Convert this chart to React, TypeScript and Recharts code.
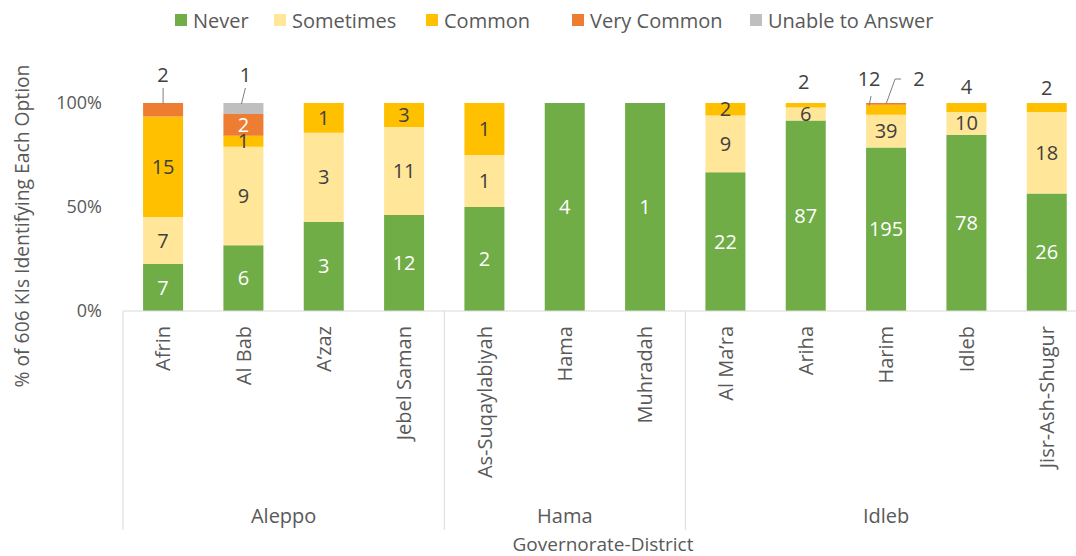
import { BarChart, Bar, XAxis, YAxis, Legend, LabelList } from 'recharts'

const DISTRICTS = [
  'Afrin',
  'Al Bab',
  'A’zaz',
  'Jebel Saman',
  'As-Suqaylabiyah',
  'Hama',
  'Muhradah',
  'Al Ma’ra',
  'Ariha',
  'Harim',
  'Idleb',
  'Jisr-Ash-Shugur',
]
const GOVERNORATES = [
  'Aleppo', 'Aleppo', 'Aleppo', 'Aleppo',
  'Hama', 'Hama', 'Hama',
  'Idleb', 'Idleb', 'Idleb', 'Idleb', 'Idleb',
]

// number of KIs giving each answer, per district
const NEVER = [7, 6, 3, 12, 2, 4, 1, 22, 87, 195, 78, 26]
const SOMETIMES = [7, 9, 3, 11, 1, 0, 0, 9, 6, 39, 10, 18]
const COMMON = [15, 1, 1, 3, 1, 0, 0, 2, 2, 12, 4, 2]
const VERY_COMMON = [2, 2, 0, 0, 0, 0, 0, 0, 0, 2, 0, 0]
const UNABLE = [0, 1, 0, 0, 0, 0, 0, 0, 0, 0, 0, 0]

const Y_TICKS = [0, 0.5, 1]

const SERIES = [
  { key: 'never', name: 'Never', counts: NEVER, color: '#70AD47', text: '#ffffff' },
  { key: 'sometimes', name: 'Sometimes', counts: SOMETIMES, color: '#FFE699', text: '#404040' },
  { key: 'common', name: 'Common', counts: COMMON, color: '#FFC000', text: '#404040' },
  { key: 'veryCommon', name: 'Very Common', counts: VERY_COMMON, color: '#ED7D31', text: '#ffffff' },
  { key: 'unable', name: 'Unable to Answer', counts: UNABLE, color: '#BFBFBF', text: '#404040' },
]

const data = DISTRICTS.map((district, i) => {
  const total = SERIES.reduce((s, ser) => s + ser.counts[i], 0)
  const row: Record<string, any> = { district }
  SERIES.forEach((ser) => {
    row[ser.key] = ser.counts[i] / total
    row[ser.key + 'N'] = ser.counts[i]
  })
  return row
})

// small segments whose labels sit above the bar (label placement only)
const CALLOUTS = [
  { district: 'Afrin', series: 'veryCommon', dx: 0, ly: 75, leader: [[0, 88]], end: 0 },
  { district: 'Al Bab', series: 'unable', dx: 2, ly: 75, leader: [[2, 88]], end: -2 },
  { district: 'Ariha', series: 'common', dx: -2, ly: 82, leader: [], end: 0 },
  { district: 'Harim', series: 'common', dx: -17, ly: 79, leader: [[-15, 96]], end: -17 },
  { district: 'Harim', series: 'veryCommon', dx: 33, ly: 79, leader: [[15, 79], [9, 79]], end: 0 },
  { district: 'Idleb', series: 'common', dx: 0, ly: 87, leader: [], end: 0 },
  { district: 'Jisr-Ash-Shugur', series: 'common', dx: 0, ly: 88, leader: [], end: 0 },
]

const LEGEND_X = [175, 274, 426, 572, 750]

const FONT = '"Open Sans", "Noto Sans", sans-serif'
const TEXT = '#595959'
const LINE = '#D9D9D9'

const CHART_W = 1090
const CHART_H = 556
const MARGIN = { top: 73, right: 3, left: 63, bottom: 0 }
const Y_AXIS_W = 60
const PLOT_LEFT = MARGIN.left + Y_AXIS_W
const BAND = (CHART_W - MARGIN.left - MARGIN.right - Y_AXIS_W) / DISTRICTS.length

function makeLabel(seriesKey: string, color: string) {
  return (props: any) => {
    const vb = props.viewBox || props
    const x = Number(vb.x ?? props.x)
    const y = Number(vb.y ?? props.y)
    const w = Number(vb.width ?? props.width)
    const h = Number(vb.height ?? props.height)
    const n = Number(props.value)
    if (!n) return null
    const cx = x + w / 2
    const idx = Math.floor((cx - PLOT_LEFT) / BAND)
    const callout = CALLOUTS.find(
      (c) => c.district === DISTRICTS[idx] && c.series === seriesKey,
    )
    if (callout) {
      const pts = callout.leader.map(([dx, py]) => `${cx + dx},${py}`)
      return (
        <g>
          {pts.length > 0 ? (
            <polyline
              points={[...pts, `${cx + callout.end},${y + 1}`].join(' ')}
              fill="none"
              stroke="#7F7F7F"
              strokeWidth={1}
            />
          ) : null}
          <text
            x={cx + callout.dx}
            y={callout.ly}
            dy="0.35em"
            textAnchor="middle"
            fill="#404040"
            fontSize={20}
          >
            {n}
          </text>
        </g>
      )
    }
    return (
      <text
        x={cx}
        y={y + h / 2}
        dy="0.35em"
        textAnchor="middle"
        fill={color}
        fontSize={20}
      >
        {n}
      </text>
    )
  }
}

function DistrictTick(props: any) {
  const { x, y, payload } = props
  const i = DISTRICTS.indexOf(payload.value)
  const gov = GOVERNORATES[i]
  const first = i === 0 || GOVERNORATES[i - 1] !== gov
  const last = i === DISTRICTS.length - 1
  const size = GOVERNORATES.filter((g) => g === gov).length
  return (
    <g>
      <text
        transform={`translate(${x},${y + 15}) rotate(-90)`}
        textAnchor="end"
        dy="0.35em"
        fill={TEXT}
        fontSize={20}
      >
        {payload.value}
      </text>
      {first ? (
        <line x1={x - BAND / 2} x2={x - BAND / 2} y1={y} y2={y + 219} stroke={LINE} />
      ) : null}
      {last ? (
        <line x1={x + BAND / 2} x2={x + BAND / 2} y1={y} y2={y + 219} stroke={LINE} />
      ) : null}
      {first ? (
        <text
          x={x + ((size - 1) * BAND) / 2}
          y={y + 205}
          dy="0.35em"
          textAnchor="middle"
          fill={TEXT}
          fontSize={20}
        >
          {gov}
        </text>
      ) : null}
    </g>
  )
}

function LegendContent() {
  return (
    <div style={{ position: 'relative', height: 30, fontSize: 20, color: TEXT }}>
      {SERIES.map((s, i) => (
        <div
          key={s.key}
          style={{
            position: 'absolute',
            left: LEGEND_X[i],
            top: 0,
            height: 30,
            display: 'flex',
            alignItems: 'center',
            whiteSpace: 'nowrap',
          }}
        >
          <span
            style={{ width: 12, height: 12, background: s.color, marginRight: 6, display: 'inline-block' }}
          />
          <span>{s.name}</span>
        </div>
      ))}
    </div>
  )
}

export default function App() {
  return (
    <div
      style={{
        position: 'absolute',
        left: 0,
        top: 0,
        width: 1076,
        height: 556,
        overflow: 'hidden',
        background: '#fff',
        fontFamily: FONT,
      }}
    >
      <BarChart
        width={CHART_W}
        height={CHART_H}
        data={data}
        margin={MARGIN}
        barCategoryGap="25%"
      >
        <Legend
          verticalAlign="top"
          content={<LegendContent />}
          wrapperStyle={{ left: 0, top: 5, width: CHART_W }}
        />
        <XAxis
          dataKey="district"
          interval={0}
          height={245}
          tickLine={false}
          tickSize={0}
          tickMargin={0}
          axisLine={{ stroke: LINE }}
          tick={<DistrictTick />}
          label={{
            content: (p: any) => {
              const vb = p.viewBox
              return (
                <text
                  x={vb.x + vb.width / 2 - 2}
                  y={551}
                  textAnchor="middle"
                  fill={TEXT}
                  fontSize={19}
                >
                  Governorate-District
                </text>
              )
            },
          }}
        />
        <YAxis
          type="number"
          width={Y_AXIS_W}
          domain={[0, 1]}
          ticks={Y_TICKS}
          tickFormatter={(v: number) => `${Math.round(v * 100)}%`}
          axisLine={false}
          tickLine={false}
          tickSize={0}
          tickMargin={21}
          tick={{ fill: TEXT, fontSize: 18 }}
          label={{
            content: (p: any) => {
              const vb = p.viewBox
              const cy = vb.y + vb.height / 2 + 19
              return (
                <text
                  transform={`translate(22,${cy}) rotate(-90)`}
                  textAnchor="middle"
                  dy="0.35em"
                  fill={TEXT}
                  fontSize={19.3}
                >
                  % of 606 KIs Identifying Each Option
                </text>
              )
            },
          }}
        />
        {SERIES.map((s) => (
          <Bar
            key={s.key}
            dataKey={s.key}
            name={s.name}
            stackId="a"
            fill={s.color}
            isAnimationActive={false}
          >
            <LabelList dataKey={s.key + 'N'} content={makeLabel(s.key, s.text)} />
          </Bar>
        ))}
      </BarChart>
    </div>
  )
}
